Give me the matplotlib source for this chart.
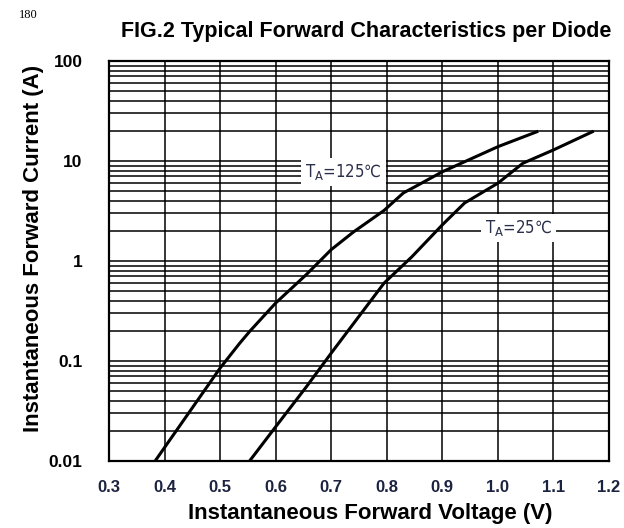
import numpy as np
import matplotlib
matplotlib.use('Agg')
import matplotlib.pyplot as plt
from matplotlib.ticker import FixedLocator, NullFormatter, LogLocator

plt.rcParams['font.family'] = ['Liberation Sans', 'DejaVu Sans']
plt.rcParams['mathtext.fontset'] = 'dejavusans'

# forward characteristics
v_125 = [0.383, 0.50, 0.535, 0.554, 0.60, 0.655, 0.70, 0.74, 0.795, 0.83, 0.85, 0.90, 1.00, 1.07]
i_125 = [0.01, 0.085, 0.15, 0.20, 0.38, 0.73, 1.3, 1.95, 3.2, 4.8, 5.5, 7.8, 13.9, 19.6]

v_25 = [0.553, 0.60, 0.655, 0.70, 0.795, 0.845, 0.90, 0.94, 1.00, 1.045, 1.10, 1.17]
i_25 = [0.01, 0.022, 0.055, 0.12, 0.6, 1.1, 2.3, 3.8, 6.0, 9.5, 12.9, 19.6]

x_ticks = [0.3, 0.4, 0.5, 0.6, 0.7, 0.8, 0.9, 1.0, 1.1, 1.2]
x_labels = ['0.3', '0.4', '0.5', '0.6', '0.7', '0.8', '0.9', '1.0', '1.1', '1.2']
y_ticks = [0.01, 0.1, 1, 10, 100]
y_labels = ['0.01', '0.1', '1', '10', '100']

fig = plt.figure(figsize=(6.24, 5.28), dpi=100)
ax = fig.add_axes([0.1747, 0.1269, 0.8013, 0.7576])

ax.set_yscale('log')
ax.set_xlim(0.3, 1.2)
ax.set_ylim(0.01, 100)

# grid: every 0.1 V and every 1..9 x 10^n A
ax.xaxis.set_major_locator(FixedLocator(x_ticks))
ax.yaxis.set_major_locator(FixedLocator(y_ticks))
ax.yaxis.set_minor_locator(LogLocator(base=10, subs=np.arange(2, 10)))
ax.yaxis.set_minor_formatter(NullFormatter())
ax.grid(True, which='both', axis='both', color='black', linewidth=1.1)
ax.set_axisbelow(True)

ax.set_xticklabels(x_labels, fontsize=12, fontweight='bold', color='#1c2340')
ax.set_yticklabels(y_labels, fontsize=12.5, fontweight='bold')
ax.tick_params(axis='x', which='both', length=0, pad=14)
ax.tick_params(axis='y', which='both', length=0, pad=19)

for s in ax.spines.values():
    s.set_linewidth(1.6)
    s.set_color('black')

ax.plot(v_125, i_125, color='black', linewidth=2.2, zorder=3)
ax.plot(v_25, i_25, color='black', linewidth=2.2, zorder=3)

box = dict(facecolor='white', edgecolor='none', pad=3)
ax.text(0.722, 7.8, r'T$_{\mathrm{A}}$=125℃', fontsize=12, color='#2a2f4a',
        family='DejaVu Sans', stretch='condensed',
        ha='center', va='center', bbox=box, zorder=4)
ax.text(1.037, 2.14, r'T$_{\mathrm{A}}$=25℃', fontsize=12, color='#2a2f4a',
        family='DejaVu Sans', stretch='condensed',
        ha='center', va='center', bbox=box, zorder=4)

ax.set_xlabel('Instantaneous Forward Voltage (V)', fontsize=16, fontweight='bold')
ax.set_ylabel('Instantaneous Forward Current (A)', fontsize=16, fontweight='bold')
ax.xaxis.set_label_coords(0.522, -0.104)
ax.yaxis.set_label_coords(-0.13, 0.532)

fig.text(0.5865, 0.941, 'FIG.2 Typical Forward Characteristics per Diode',
         fontsize=15.5, fontweight='bold', ha='center', va='center')
fig.text(0.03, 0.972, '180', fontsize=9, family='Liberation Serif', ha='left', va='center')

fig.savefig('out.png', dpi=100)
